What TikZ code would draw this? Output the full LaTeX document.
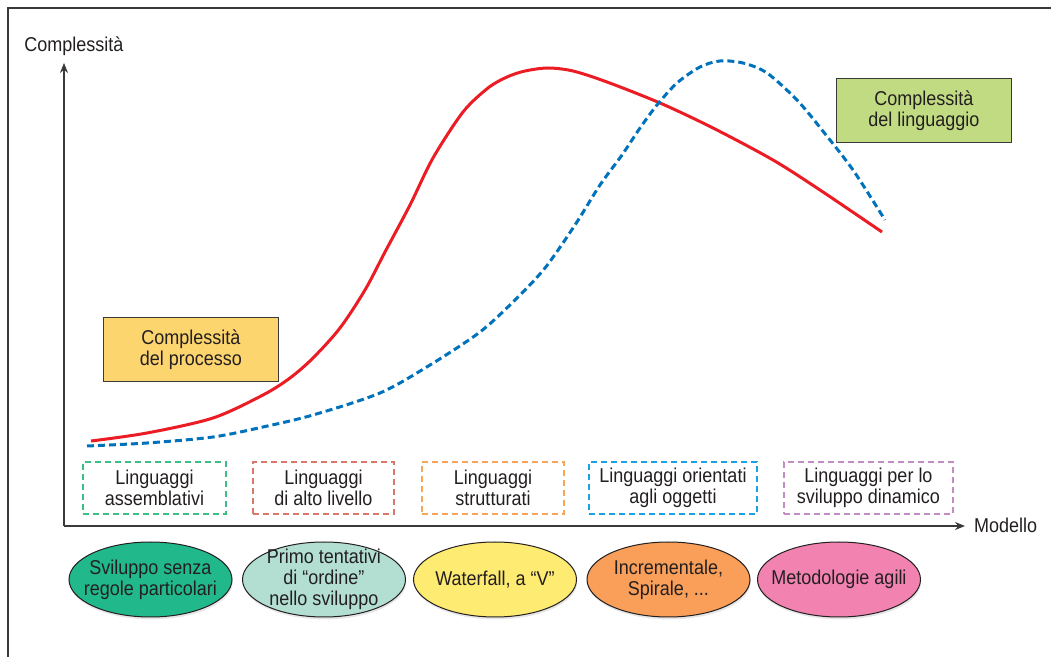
\documentclass[tikz,border=0pt]{standalone}
\usepackage{fontspec}
\setmainfont[FakeStretch=0.9]{Liberation Sans}
\usetikzlibrary{arrows.meta, shapes.geometric, shadows}
\definecolor{Ink}    {HTML}{231F20}
\definecolor{AxisG}  {HTML}{3A3A3A}
\definecolor{CurveR} {HTML}{EC1C24}
\definecolor{CurveB} {HTML}{0072BC}
\definecolor{ProcF}  {HTML}{FDD56F}
\definecolor{LangF}  {HTML}{C1DB83}
\definecolor{GreenD} {HTML}{3CBF87}
\definecolor{SalmD}  {HTML}{D8786A}
\definecolor{OrangeD}{HTML}{F8A55B}
\definecolor{BlueD}  {HTML}{1BA3E0}
\definecolor{LilacD} {HTML}{C28DC2}
\definecolor{EmerF}  {HTML}{21B98B}
\definecolor{MintF}  {HTML}{B3DFD3}
\definecolor{YellF}  {HTML}{FEEB72}
\definecolor{OranF}  {HTML}{F99F59}
\definecolor{PinkF}  {HTML}{F283B1}
\tikzset{
  txt/.style={
    font=\fontsize{10}{10.5}\selectfont, text=Ink, align=center,
  },
  axis/.style={
    draw=AxisG, line width=0.6pt,
    -{Stealth[length=5pt,width=4pt]},
  },
  tagbox/.style args={#1/#2}{
    rectangle, draw=#1, dash pattern=on 3pt off 2pt,
    line width=1.4pt, txt, inner sep=0pt,
    minimum width=#2, minimum height=26pt,
  },
  curvebox/.style args={#1}{
    rectangle, draw=AxisG, fill=#1, line width=0.6pt, txt,
    minimum width=87.5pt, minimum height=32pt, inner sep=0pt,
  },
  phase/.style args={#1}{
    ellipse, draw=Ink, fill=#1, line width=0.5pt,
    minimum width=81.5pt, minimum height=37.5pt, inner sep=0pt,
    drop shadow={opacity=0.2, shadow xshift=0.4pt, shadow yshift=-1.2pt},
  },
}
\begin{document}
\begin{tikzpicture}[x=0.5pt,y=-0.5pt]
  \useasboundingbox (0,0) rectangle (1051,657);
  % frame
  \draw[AxisG, line width=0.9pt] (8,657) -- (8,8) -- (1051,8);
  % axes
  \coordinate (o) at (64,526);
  \coordinate (ytip) at (64,63);
  \coordinate (xtip) at (965,526);
  \node[txt] (ylab) at (74,46) {Complessità};
  \node[txt, anchor=west] (xlab) at (967,525) {Modello};
  \draw[axis] (o) -- (ytip);
  \draw[axis] (o) -- (xtip);
  % curves
  \draw[CurveR, line width=1.5pt] plot[smooth, tension=0.5] coordinates {
    (91,441) (147,433) (213,418) (263,395) (290,378) (313,358)
    (340,328) (365,290) (385,252) (410,205) (433,158) (463,112)
    (488,88) (507,77) (525,71) (548,68) (573,71) (607,82)
    (660,103) (713,128) (773,160) (820,190) (882,232)};
  \draw[CurveB, line width=1.5pt, dash pattern=on 3.5pt off 2pt]
    plot[smooth, tension=0.5] coordinates {
    (87,446) (147,443) (213,437) (263,427) (313,415) (380,393)
    (430,365) (480,332) (515,300) (545,268) (575,225) (600,185)
    (622,155) (640,128) (657,105) (677,83) (700,67) (720,61)
    (743,63) (767,73) (797,100) (822,130) (853,170) (885,220)};
  \node[curvebox=ProcF] (proc) at (191,349.5) {Complessità\\del processo};
  \node[curvebox=LangF] (lang) at (924,110.5) {Complessità\\del linguaggio};
  % languages
  \foreach \n/\xc/\w/\c/\lbl in {
      asm/154.5/71.5pt/GreenD/{Linguaggi\\assemblativi},
      high/323.5/70.5pt/SalmD/{Linguaggi\\di alto livello},
      struct/493/71pt/OrangeD/{Linguaggi\\strutturati},
      obj/673/84pt/BlueD/{Linguaggi orientati\\agli oggetti},
      dyn/868.5/84.5pt/LilacD/{Linguaggi per lo\\sviluppo dinamico}}{
    \node[tagbox=\c/\w] (lang-\n) at (\xc,488) {\lbl};
  }
  % development models
  \foreach \n/\xc/\c/\lbl in {
      free/150.5/EmerF/{Sviluppo senza\\regole particolari},
      order/324/MintF/{Primo tentativi\\di “ordine”\\nello sviluppo},
      water/495/YellF/{Waterfall, a “V”},
      iter/668.5/OranF/{Incrementale,\\Spirale, ...},
      agile/839/PinkF/{Metodologie agili}}{
    \node[phase=\c, label={[txt]center:\lbl}] (model-\n) at (\xc,579.5) {};
  }
\end{tikzpicture}
\end{document}
